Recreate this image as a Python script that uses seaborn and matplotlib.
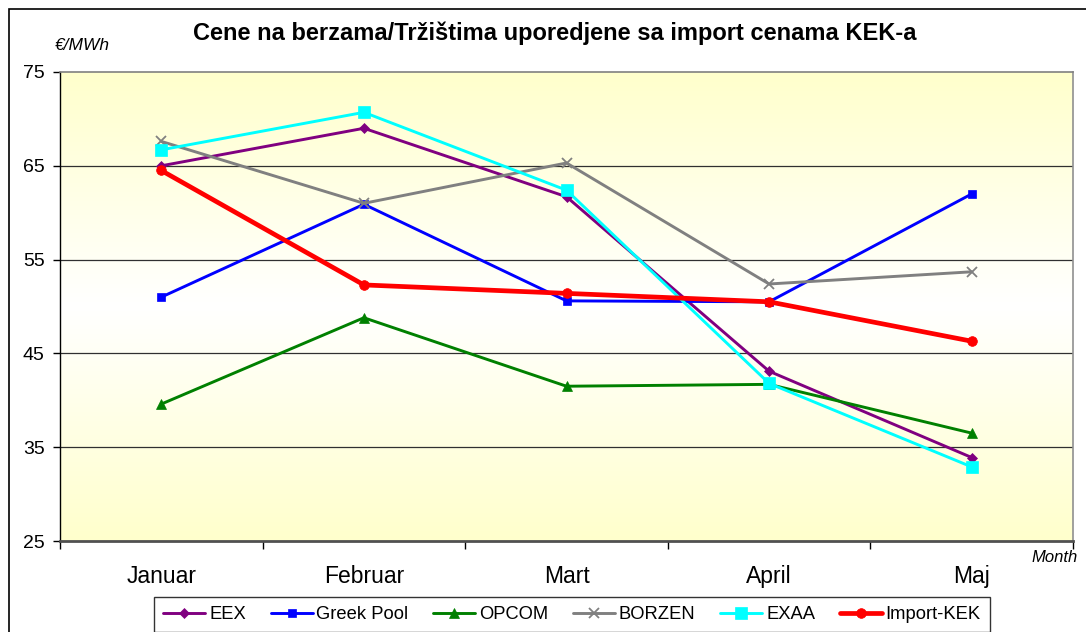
import seaborn as sns
import pandas as pd
import matplotlib.pyplot as plt
import numpy as np
from matplotlib.colors import LinearSegmentedColormap
from matplotlib.patches import Rectangle

months = ['Januar', 'Februar', 'Mart', 'April', 'Maj']
eex = [65.0, 69.0, 61.7, 43.1, 33.9]
greek_pool = [51.0, 60.9, 50.6, 50.5, 62.0]
opcom = [39.6, 48.8, 41.5, 41.7, 36.5]
borzen = [67.6, 61.0, 65.3, 52.4, 53.7]
exaa = [66.7, 70.7, 62.4, 41.8, 32.9]
import_kek = [64.5, 52.3, 51.4, 50.5, 46.3]

y_ticks = [25, 35, 45, 55, 65, 75]

sns.set_style('white')
plt.rcParams['font.family'] = ['Liberation Sans', 'DejaVu Sans']
plt.rcParams['text.color'] = 'black'
plt.rcParams['xtick.color'] = 'black'
plt.rcParams['ytick.color'] = 'black'

df = pd.DataFrame({'pos': list(range(len(months))),
                   'month': months,
                   'EEX': eex, 'Greek Pool': greek_pool, 'OPCOM': opcom,
                   'BORZEN': borzen, 'EXAA': exaa, 'Import-KEK': import_kek})

# series style: color, marker, marker size, line width
styles = {
	'EEX': ('#800080', 'D', 5.5, 2.1),
	'Greek Pool': ('#0000FF', 's', 6, 2.1),
	'OPCOM': ('#008000', '^', 7, 2.1),
	'BORZEN': ('#808080', 'x', 7, 2.1),
	'EXAA': ('#00FFFF', 's', 8, 2.1),
	'Import-KEK': ('#FF0000', 'o', 7, 3.4),
}

fig = plt.figure(figsize=(10.86, 6.32), dpi=100)
ax = fig.add_axes([60/1086, 1 - 541/632, (1073 - 60)/1086, (541 - 72)/632])

# yellow -> white -> yellow background
cmap = LinearSegmentedColormap.from_list('bg', ['#FFFFCC', '#FFFFFF', '#FFFFCC'])
grad = np.linspace(0, 1, 256).reshape(-1, 1)
ax.imshow(grad, cmap=cmap, aspect='auto', extent=(-0.5, 4.5, 25, 75),
          origin='upper', zorder=0)

for y in y_ticks[1:-1]:
	ax.axhline(y, color='#303030', lw=0.9, zorder=1)

for name, (col, mk, ms, lw) in styles.items():
	sns.lineplot(data=df, x='pos', y=name, ax=ax, color=col, marker=mk,
	             markersize=ms, linewidth=lw, markeredgecolor=col,
	             markeredgewidth=1.3 if mk == 'x' else 0.5, label=name,
	             legend=False, zorder=3)

ax.set_xlim(-0.5, 4.5)
ax.set_ylim(25, 75)
ax.set_xlabel('')
ax.set_ylabel('')

ax.set_xticks(np.arange(-0.5, 5, 1))
ax.set_xticklabels([])
ax.set_xticks(df['pos'], minor=True)
ax.set_xticklabels(months, minor=True, fontsize=16.5)
ax.tick_params(axis='x', which='major', direction='out', length=5.5, width=1, color='black', bottom=True)
ax.tick_params(axis='x', which='minor', length=0, pad=17, bottom=True)

ax.set_yticks(y_ticks)
ax.set_yticklabels([str(v) for v in y_ticks], fontsize=14)
ax.tick_params(axis='y', direction='out', length=5, width=1, color='black', pad=6, left=True)

ax.spines['left'].set_color('black')
ax.spines['left'].set_linewidth(1)
ax.spines['bottom'].set_color('#505050')
ax.spines['bottom'].set_linewidth(2)
ax.spines['top'].set_color('#808080')
ax.spines['top'].set_linewidth(1.2)
ax.spines['right'].set_color('#909090')
ax.spines['right'].set_linewidth(1.2)

fig.text(555/1086, 1 - 33/632, 'Cene na berzama/Tržištima uporedjene sa import cenama KEK-a',
         ha='center', va='center', fontsize=17, fontweight='bold')
fig.text(82/1086, 1 - 46/632, '€/MWh', ha='center', va='center', fontsize=12.5, style='italic')
fig.text(1078/1086, 1 - 557/632, 'Month', ha='right', va='center', fontsize=12, style='italic')

handles, labels = ax.get_legend_handles_labels()
leg = fig.legend(handles, labels, ncol=6, loc='upper center',
                 bbox_to_anchor=(572/1086, 1 - 597/632), fontsize=13.2,
                 frameon=True, fancybox=False, edgecolor='black',
                 handlelength=2.3, handletextpad=0.2, columnspacing=1.35,
                 borderpad=0.5, borderaxespad=0)
leg.get_frame().set_linewidth(1.0)

# outer chart frame
fig.patches.append(Rectangle((9/1086, -0.5), 2, 0.5 + 1 - 9/632, transform=fig.transFigure,
                             fill=False, edgecolor='black', linewidth=1.2, zorder=0))

plt.savefig('out.png', dpi=100)
